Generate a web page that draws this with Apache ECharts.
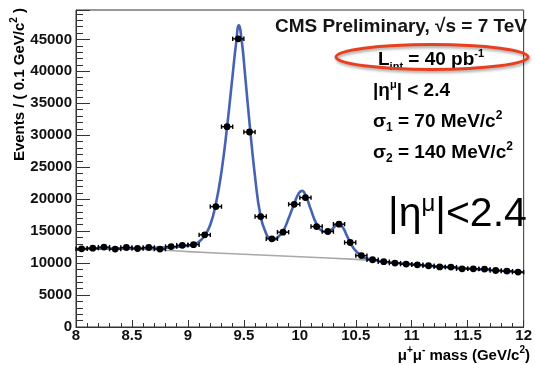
<!DOCTYPE html>
<html>
<head>
<meta charset="utf-8">
<script src="https://cdn.jsdelivr.net/npm/echarts@6/dist/echarts.min.js"></script>
<style>
  html, body { margin: 0; padding: 0; background: #ffffff; }
  #chart { width: 535px; height: 365px; }
</style>
</head>
<body>
<div id="chart"></div>
<script>
// Dimuon invariant mass spectrum, 0.1 GeV bins
const massBins = [
  8.05, 8.15, 8.25, 8.35, 8.45, 8.55, 8.65, 8.75, 8.85, 8.95,
  9.05, 9.15, 9.25, 9.35, 9.45, 9.55, 9.65, 9.75, 9.85, 9.95,
  10.05, 10.15, 10.25, 10.35, 10.45, 10.55, 10.65, 10.75, 10.85, 10.95,
  11.05, 11.15, 11.25, 11.35, 11.45, 11.55, 11.65, 11.75, 11.85, 11.95
];
const events = [
  12230, 12340, 12500, 12190, 12440, 12280, 12440, 12190, 12590, 12780,
  12880, 14420, 18840, 31340, 45090, 30510, 17280, 13800, 14840, 19200,
  20250, 15720, 14940, 16090, 13220, 11170, 10520, 10220, 10000, 9840,
  9730, 9580, 9400, 9370, 9110, 9110, 9060, 8840, 8750, 8590
];
const binHalfWidth = 0.05;

// Total fit (signal + background)
const fitMass = [
  8.00, 8.20, 8.40, 8.60, 8.80, 8.90, 9.00, 9.05, 9.10, 9.15,
  9.20, 9.25, 9.30, 9.35, 9.40, 9.43, 9.455, 9.48, 9.51, 9.55,
  9.60, 9.65, 9.70, 9.73, 9.76, 9.80, 9.85, 9.90, 9.95, 9.99,
  10.02, 10.05, 10.10, 10.15, 10.20, 10.25, 10.30, 10.34, 10.38, 10.42,
  10.46, 10.50, 10.55, 10.60, 10.70, 10.80, 10.90, 11.00, 11.25, 11.50,
  11.75, 12.00
];
const fitEvents = [
  12200, 12260, 12300, 12330, 12420, 12530, 12720, 12900, 13350, 14300,
  16000, 19300, 24300, 31300, 39500, 44300, 47200, 44900, 39600, 32000,
  23500, 17300, 14600, 13800, 13650, 14000, 15000, 17000, 19300, 20900,
  21300, 20700, 18300, 16100, 15000, 14850, 15500, 16200, 15700, 14300,
  12900, 11900, 11150, 10700, 10350, 10120, 9950, 9800, 9450, 9140,
  8850, 8560
];

// Background component of the fit
const bgMass = [8.0, 8.4, 8.7, 9.0, 9.5, 10.0, 10.5, 10.7, 11.0, 11.5, 12.0];
const bgEvents = [12180, 12200, 12080, 11800, 11380, 10980, 10580, 10330, 9800, 9140, 8560];

const yTicks = [0, 5000, 10000, 15000, 20000, 25000, 30000, 35000, 40000, 45000];

const FONT = '"Liberation Sans", Arial, Helvetica, sans-serif';
const TXT = '#151515';

const zip = (a, b) => a.map((v, i) => [v, b[i]]);

const chart = echarts.init(document.getElementById('chart'), null, { renderer: 'canvas' });

const boldText = (size) => ({ fontFamily: FONT, fontWeight: 'bold', fontSize: size, fill: TXT });

chart.setOption({
  backgroundColor: '#ffffff',
  animation: false,
  grid: {
    left: 76, right: 5, top: 10, bottom: 38,
    show: true, borderColor: '#333', borderWidth: 1, backgroundColor: '#ffffff'
  },
  xAxis: {
    type: 'value', min: 8, max: 12, interval: 0.5,
    axisLine: { show: true, lineStyle: { color: '#333', width: 1 } },
    axisTick: { show: true, inside: true, length: 7, lineStyle: { color: '#333' } },
    minorTick: { show: true, splitNumber: 5, length: 4, lineStyle: { color: '#333' } },
    splitLine: { show: false },
    axisLabel: {
      margin: 1, color: '#111', fontFamily: FONT, fontWeight: 'bold', fontSize: 15,
      formatter: (v) => String(v)
    }
  },
  yAxis: {
    type: 'value', min: yTicks[0], max: 49600, interval: yTicks[1] - yTicks[0],
    axisLine: { show: true, lineStyle: { color: '#333', width: 1 } },
    axisTick: { show: true, inside: true, length: 14, lineStyle: { color: '#333' } },
    minorTick: { show: true, splitNumber: 5, length: 7, lineStyle: { color: '#333' } },
    splitLine: { show: false },
    axisLabel: {
      margin: 4, color: '#111', fontFamily: FONT, fontWeight: 'bold', fontSize: 15,
      showMaxLabel: false,
      formatter: (v) => (yTicks.indexOf(v) >= 0 ? String(v) : '')
    }
  },
  series: [
    {
      name: 'background', type: 'line', data: zip(bgMass, bgEvents),
      smooth: 0.4, showSymbol: false, z: 2,
      lineStyle: { color: '#a8a8a8', width: 1.6 }
    },
    {
      name: 'fit', type: 'line', data: zip(fitMass, fitEvents),
      smooth: 0.5, showSymbol: false, z: 3,
      lineStyle: { color: '#4662b2', width: 2.6 }
    },
    {
      name: 'data', type: 'custom', z: 4,
      data: zip(massBins, events),
      renderItem: (params, api) => {
        const x = api.value(0), y = api.value(1);
        const c = api.coord([x, y]);
        const l = api.coord([x - binHalfWidth, y]);
        const r = api.coord([x + binHalfWidth, y]);
        const cap = 2.2;
        const st = { stroke: '#000', lineWidth: 1.4 };
        return {
          type: 'group',
          children: [
            { type: 'line', shape: { x1: l[0], y1: l[1], x2: r[0], y2: r[1] }, style: st },
            { type: 'line', shape: { x1: l[0], y1: l[1] - cap, x2: l[0], y2: l[1] + cap }, style: st },
            { type: 'line', shape: { x1: r[0], y1: r[1] - cap, x2: r[0], y2: r[1] + cap }, style: st },
            { type: 'circle', shape: { cx: c[0], cy: c[1], r: 3.4 }, style: { fill: '#000' } }
          ]
        };
      }
    }
  ],
  graphic: [
    {
      type: 'text', x: 18, y: 8, rotation: Math.PI / 2, z: 10,
      style: {
        text: '{t|Events / ( 0.1 GeV/c}{s|2}{t| )}',
        align: 'right', verticalAlign: 'middle',
        rich: {
          t: { fontFamily: FONT, fontWeight: 'bold', fontSize: 15, color: TXT, lineHeight: 18, verticalAlign: 'bottom' },
          s: { fontFamily: FONT, fontWeight: 'bold', fontSize: 10, color: TXT, lineHeight: 18, verticalAlign: 'top' }
        }
      }
    },
    {
      type: 'text', x: 530, y: 354, z: 10,
      style: {
        text: '{t|μ}{s|+}{t|μ}{s|-}{t| mass (GeV/c}{s|2}{t|)}',
        align: 'right', verticalAlign: 'middle',
        rich: {
          t: { fontFamily: FONT, fontWeight: 'bold', fontSize: 15, color: TXT, lineHeight: 18, verticalAlign: 'bottom' },
          s: { fontFamily: FONT, fontWeight: 'bold', fontSize: 10, color: TXT, lineHeight: 18, verticalAlign: 'top' }
        }
      }
    },
    {
      type: 'text', x: 527, y: 27, z: 10,
      style: Object.assign(boldText(19), { text: 'CMS Preliminary, √s = 7 TeV', align: 'right', verticalAlign: 'middle' })
    },
    {
      type: 'text', x: 378, y: 60, z: 10,
      style: {
        text: '{t|L}{b|int}{t| = 40 pb}{s|-1}',
        align: 'left', verticalAlign: 'middle',
        rich: {
          t: { fontFamily: FONT, fontWeight: 'bold', fontSize: 19, color: TXT, lineHeight: 24, verticalAlign: 'middle' },
          b: { fontFamily: FONT, fontWeight: 'bold', fontSize: 11, color: TXT, lineHeight: 24, verticalAlign: 'bottom' },
          s: { fontFamily: FONT, fontWeight: 'bold', fontSize: 11, color: TXT, lineHeight: 24, verticalAlign: 'top' }
        }
      }
    },
    {
      type: 'text', x: 373, y: 91, z: 10,
      style: {
        text: '{t||η}{s|μ}{t|| < 2.4}',
        align: 'left', verticalAlign: 'middle',
        rich: {
          t: { fontFamily: FONT, fontWeight: 'bold', fontSize: 19, color: TXT, lineHeight: 24, verticalAlign: 'middle' },
          s: { fontFamily: FONT, fontWeight: 'bold', fontSize: 11, color: TXT, lineHeight: 24, verticalAlign: 'top' }
        }
      }
    },
    {
      type: 'text', x: 373, y: 122, z: 10,
      style: {
        text: '{t|σ}{b|1}{t| = 70 MeV/c}{s|2}',
        align: 'left', verticalAlign: 'middle',
        rich: {
          t: { fontFamily: FONT, fontWeight: 'bold', fontSize: 19, color: TXT, lineHeight: 24, verticalAlign: 'middle' },
          b: { fontFamily: FONT, fontWeight: 'bold', fontSize: 12, color: TXT, lineHeight: 24, verticalAlign: 'bottom' },
          s: { fontFamily: FONT, fontWeight: 'bold', fontSize: 12, color: TXT, lineHeight: 24, verticalAlign: 'top' }
        }
      }
    },
    {
      type: 'text', x: 373, y: 153, z: 10,
      style: {
        text: '{t|σ}{b|2}{t| = 140 MeV/c}{s|2}',
        align: 'left', verticalAlign: 'middle',
        rich: {
          t: { fontFamily: FONT, fontWeight: 'bold', fontSize: 19, color: TXT, lineHeight: 24, verticalAlign: 'middle' },
          b: { fontFamily: FONT, fontWeight: 'bold', fontSize: 12, color: TXT, lineHeight: 24, verticalAlign: 'bottom' },
          s: { fontFamily: FONT, fontWeight: 'bold', fontSize: 12, color: TXT, lineHeight: 24, verticalAlign: 'top' }
        }
      }
    },
    {
      type: 'ellipse', z: 11,
      shape: { cx: 432, cy: 57, rx: 96, ry: 12.5 },
      style: {
        fill: null, stroke: '#e8401f', lineWidth: 3,
        shadowBlur: 3, shadowColor: 'rgba(0,0,0,0.35)', shadowOffsetX: 1, shadowOffsetY: 2
      }
    },
    {
      type: 'text', x: 388, y: 215, z: 10,
      style: {
        text: '{t||η}{s|μ}{t||<2.4}',
        align: 'left', verticalAlign: 'middle',
        rich: {
          t: { fontFamily: FONT, fontSize: 41, color: '#ff1a1a', lineHeight: 46, verticalAlign: 'middle' },
          s: { fontFamily: FONT, fontSize: 24, color: '#ff1a1a', lineHeight: 46, verticalAlign: 'top' }
        }
      }
    }
  ]
});
</script>
</body>
</html>
